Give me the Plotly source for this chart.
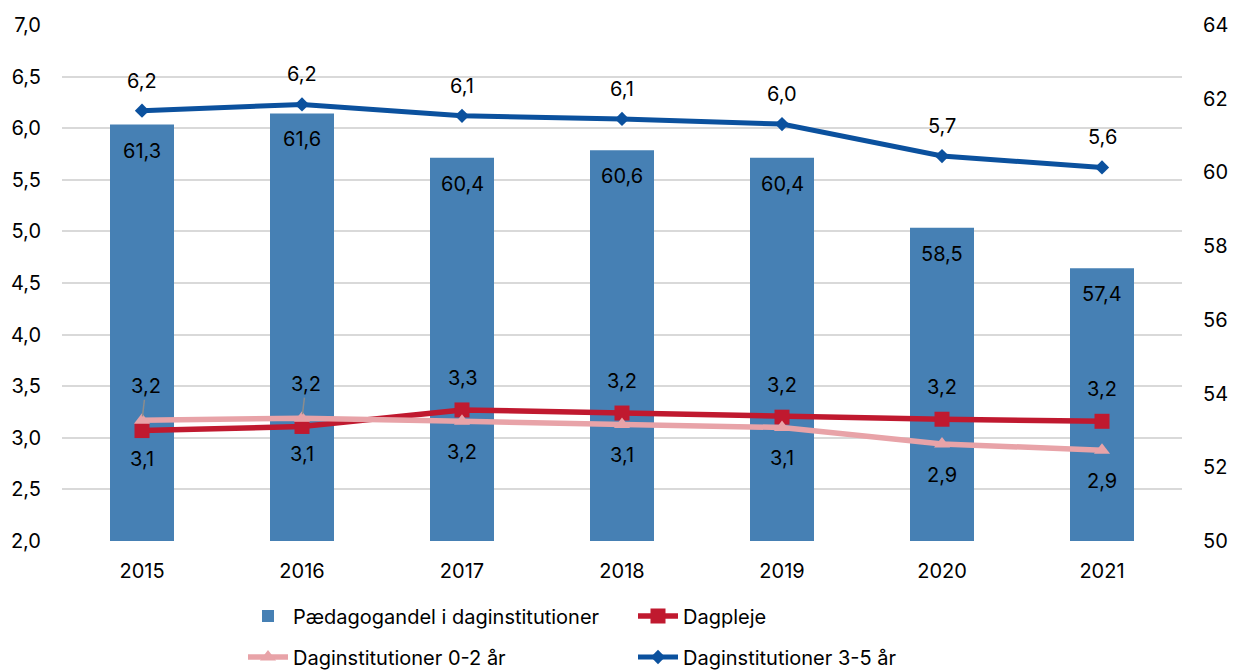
import plotly.graph_objects as go

years = [2015, 2016, 2017, 2018, 2019, 2020, 2021]
paed_andel = [61.3, 61.6, 60.4, 60.6, 60.4, 58.5, 57.4]
dagpleje = [3.07, 3.11, 3.27, 3.24, 3.20, 3.18, 3.16]
dag_0_2 = [3.17, 3.19, 3.16, 3.13, 3.10, 2.94, 2.88]
dag_3_5 = [6.17, 6.23, 6.12, 6.09, 6.04, 5.73, 5.62]
left_ticks = [2.0, 2.5, 3.0, 3.5, 4.0, 4.5, 5.0, 5.5, 6.0, 6.5, 7.0]
right_ticks = [50, 52, 54, 56, 58, 60, 62, 64]

BAR_C = "#4680B4"
RED = "#C0192F"
PINK = "#E8A3A8"
BLUE = "#0B519E"
FONT = "Inter"
FS = 20

# page body has an 8px margin; figure is offset so the visible page matches 1239x671
OFF = 8
W, H = 1239 - OFF, 671

def fmt(v):
    return f"{v:.1f}".replace(".", ",")

fig = go.Figure()
fig.add_trace(go.Bar(x=years, y=paed_andel, name="Pædagogandel i daginstitutioner",
                     marker=dict(color=BAR_C, line=dict(width=0)), width=0.4, yaxis="y",
                     legend="legend"))
fig.add_trace(go.Scatter(x=years, y=dagpleje, name="Dagpleje", mode="lines+markers",
                         line=dict(color=RED, width=5.5), marker=dict(symbol="square", size=15, color=RED),
                         yaxis="y2", legend="legend"))
fig.add_trace(go.Scatter(x=years, y=dag_0_2, name="Daginstitutioner 0-2 år", mode="lines+markers",
                         line=dict(color=PINK, width=5.5), marker=dict(symbol="triangle-up", size=14, color=PINK),
                         yaxis="y2", legend="legend2"))
fig.add_trace(go.Scatter(x=years, y=dag_3_5, name="Daginstitutioner 3-5 år", mode="lines+markers",
                         line=dict(color=BLUE, width=5), marker=dict(symbol="diamond", size=11, color=BLUE),
                         yaxis="y2", legend="legend2"))

ann = []
tf = dict(family=FONT, size=FS, color="#000000")
for i, yr in enumerate(years):
    ann.append(dict(x=yr, y=paed_andel[i], xref="x", yref="y", text=fmt(paed_andel[i]),
                    showarrow=False, yshift=-26, font=tf))
    ann.append(dict(x=yr, y=dag_3_5[i], xref="x", yref="y2", text=fmt(dag_3_5[i]),
                    showarrow=False, yshift=30, font=tf))
    if i < 2:
        ann.append(dict(x=yr, y=dag_0_2[i], xref="x", yref="y2", text=fmt(dag_0_2[i]),
                        showarrow=True, arrowhead=0, arrowwidth=1.5, arrowcolor="#8C8C8C",
                        ax=4, ay=-34, standoff=4, font=tf))
        ann.append(dict(x=yr, y=dagpleje[i], xref="x", yref="y2", text=fmt(dagpleje[i]),
                        showarrow=False, yshift=-28, font=tf))
    else:
        ann.append(dict(x=yr, y=dagpleje[i], xref="x", yref="y2", text=fmt(dagpleje[i]),
                        showarrow=False, yshift=32, font=tf))
        ann.append(dict(x=yr, y=dag_0_2[i], xref="x", yref="y2", text=fmt(dag_0_2[i]),
                        showarrow=False, yshift=-31, font=tf))

leg_common = dict(orientation="h", xanchor="left", yanchor="middle",
                  xref="container", yref="container",
                  entrywidth=335, font=dict(family=FONT, size=FS), itemwidth=40,
                  bgcolor="rgba(0,0,0,0)")

fig.update_layout(
    width=W, height=H,
    margin=dict(l=62 - OFF, r=57, t=25 - OFF, b=130 + OFF, autoexpand=False),
    paper_bgcolor="white", plot_bgcolor="white",
    font=dict(family=FONT, size=FS, color="#000000"),
    xaxis=dict(type="linear", range=[2014.5, 2021.5], tickmode="array",
               tickvals=years, ticktext=[str(y) for y in years], automargin=False,
               showgrid=False, showline=False, zeroline=False, ticks="outside", ticklen=12,
               tickcolor="rgba(0,0,0,0)", tickfont=dict(size=FS)),
    yaxis=dict(side="right", range=[50, 64], tickmode="array", tickvals=right_ticks,
               ticktext=[str(v) for v in right_ticks], showgrid=False, zeroline=False,
               automargin=False,
               ticks="outside", ticklen=16, tickcolor="rgba(0,0,0,0)", tickfont=dict(size=FS)),
    yaxis2=dict(side="left", overlaying="y", range=[2, 7], tickmode="array",
                tickvals=left_ticks, ticktext=[fmt(v) for v in left_ticks],
                showgrid=True, gridcolor="#D9D9D9", gridwidth=2, zeroline=False,
                automargin=False,
                ticks="outside", ticklen=16, tickcolor="rgba(0,0,0,0)", tickfont=dict(size=FS)),
    showlegend=True,
    legend=dict(leg_common, x=(243 - OFF) / W, y=1 - (616 - OFF) / H),
    legend2=dict(leg_common, x=(243 - OFF) / W, y=1 - (657 - OFF) / H),
    annotations=ann,
)

fig.write_html("out.html")
